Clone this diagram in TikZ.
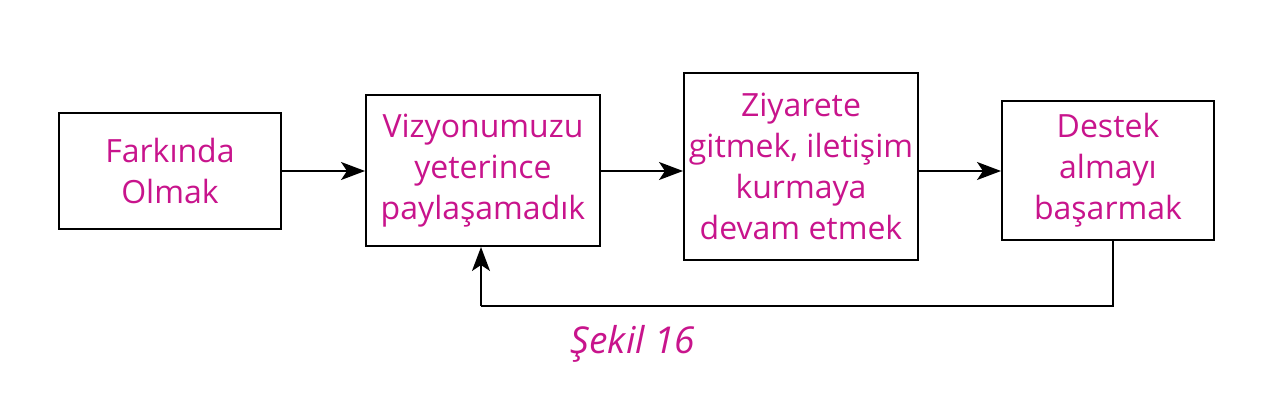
\documentclass[tikz,border=0pt]{standalone}
\usepackage{fontspec}
\setmainfont{Open Sans}
\usetikzlibrary{arrows.meta}
\definecolor{mag}{RGB}{200,20,140}
\tikzset{
  blk/.style={draw=black, line width=2pt, rectangle, inner sep=0pt, align=center,
    text=mag, font=\fontsize{32}{41}\selectfont},
  conn/.style={line width=2pt, -{Stealth[length=24pt,width=18pt,inset=6pt]}},
  plain/.style={line width=2pt}
}
\begin{document}
\begin{tikzpicture}[x=1pt,y=-1pt]
\useasboundingbox (0,0) rectangle (1277,409);
\node[blk, minimum width=222pt, minimum height=116pt] (a) at (170,171) {Farkında\\Olmak};
\node[blk, minimum width=234pt, minimum height=151pt] (b) at (483,170.5) {Vizyonumuzu\\yeterince\\paylaşamadık};
\node[blk, minimum width=234pt, minimum height=187pt] (c) at (801,166.5) {Ziyarete\\gitmek, iletişim\\kurmaya\\devam etmek};
\node[blk, minimum width=212pt, minimum height=139pt] (d) at (1108,170.5) {Destek\\almayı\\başarmak};
\draw[conn] (a.east |- 0,171) -- (b.west |- 0,171);
\draw[conn] (b.east |- 0,171) -- (c.west |- 0,171);
\draw[conn] (c.east |- 0,171) -- (d.west |- 0,171);
\coordinate (d1) at (1113,306);
\coordinate (b1) at (481,306);
\draw[plain] (d.south -| d1) -- (d1) -- (b1);
\draw[conn] (b1) -- (b.south -| b1);
\node[text=mag, font=\fontsize{37}{44}\itshape\selectfont, anchor=center] (cap) at (633,344) {Şekil 16};
\end{tikzpicture}
\end{document}
